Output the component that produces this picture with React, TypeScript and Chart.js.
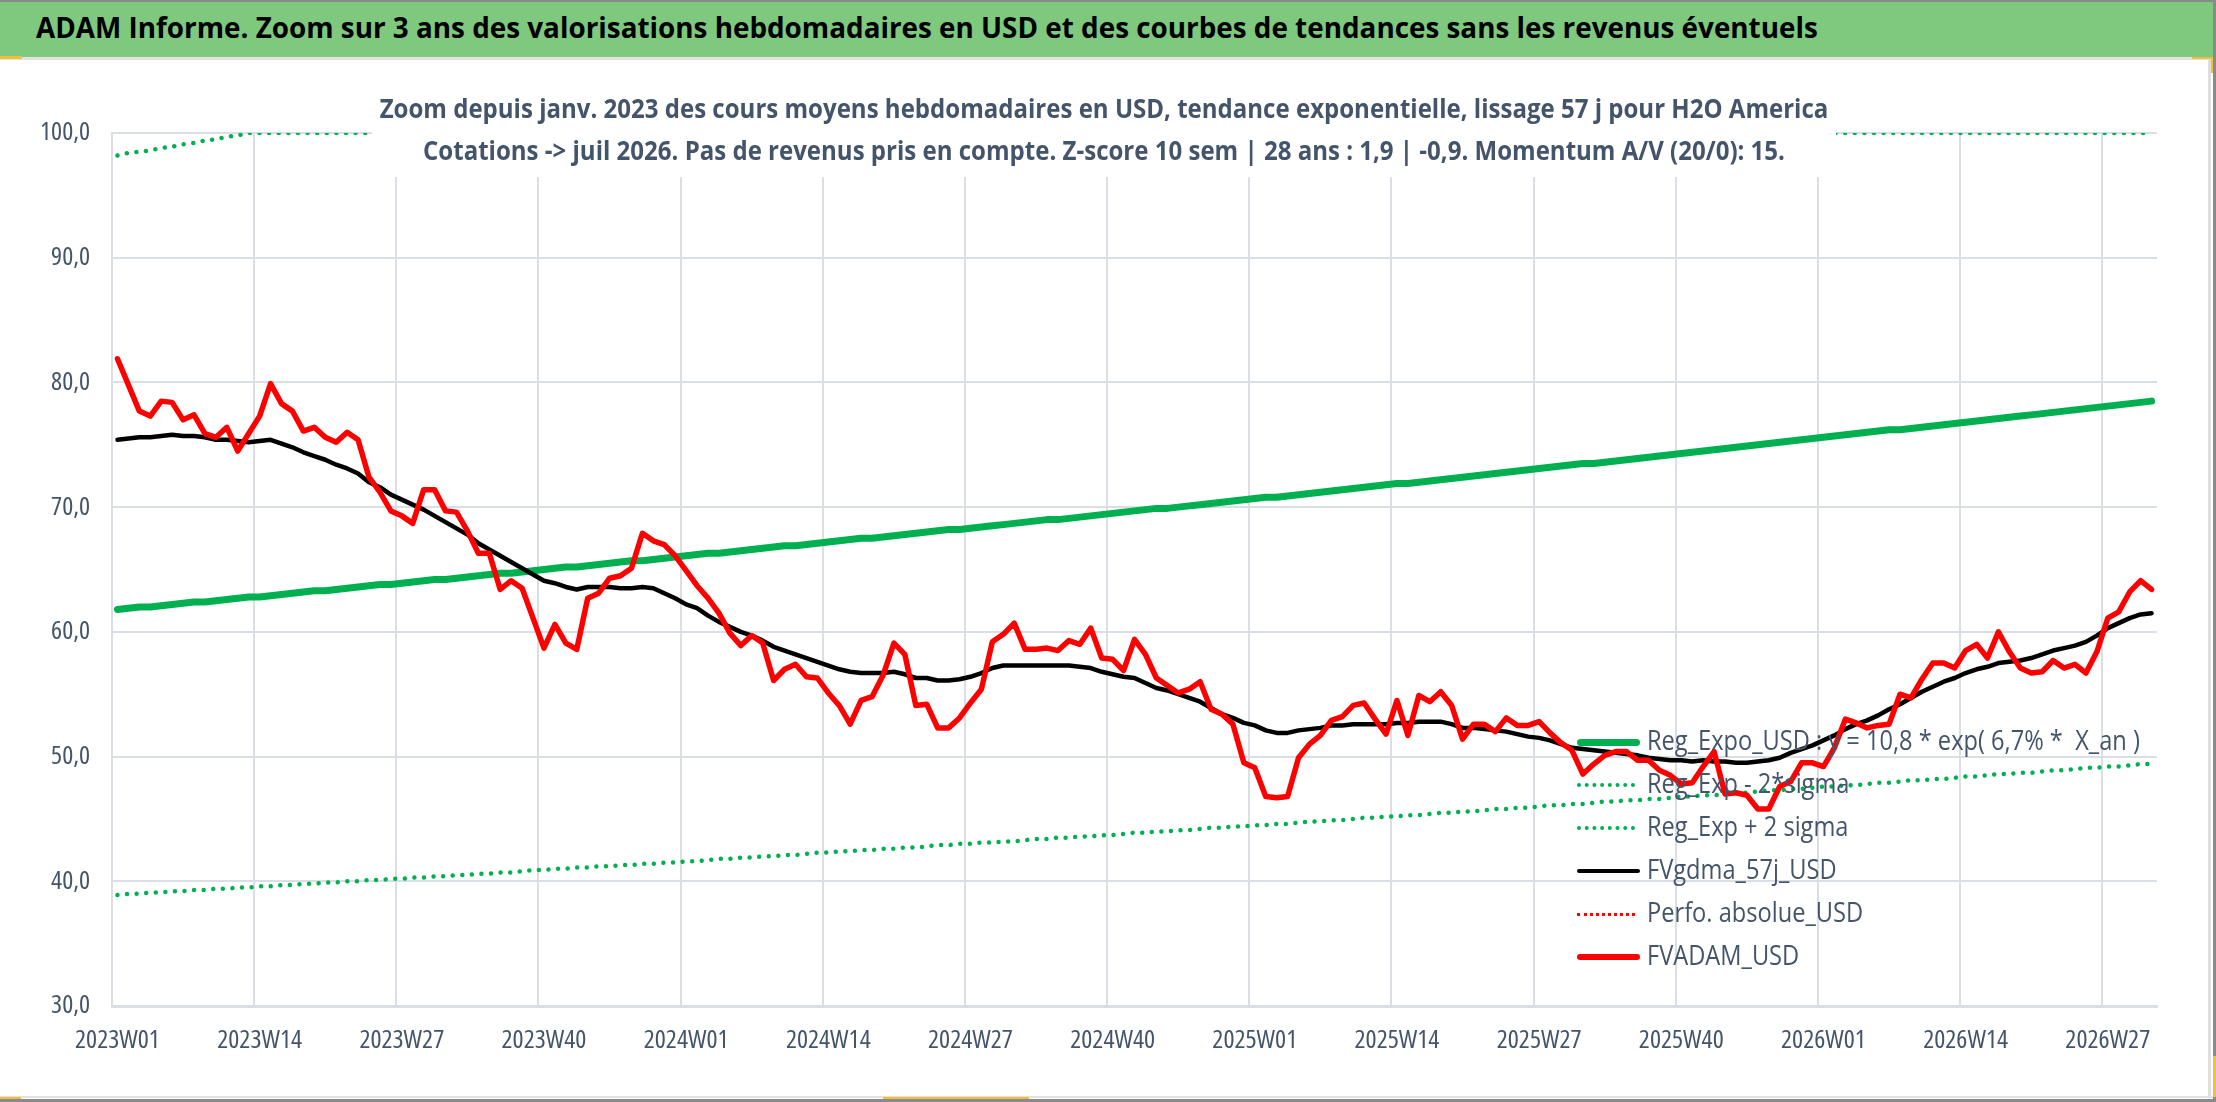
import { useEffect, useRef } from 'react';
import { Chart, registerables } from 'chart.js';

Chart.register(...registerables);

// weeks shown on the category axis (ISO weeks, 52 per year up to juil 2026)
const YEAR_WEEKS: [number, number][] = [
  [2023, 52],
  [2024, 52],
  [2025, 52],
  [2026, 31]
];
const weeks: string[] = YEAR_WEEKS.flatMap(([y, n]) =>
  Array.from({ length: n }, (_, k) => `${y}W${String(k + 1).padStart(2, '0')}`)
);
const LABEL_EVERY = 13;

// FVADAM_USD (red)
const fvAdam = [
  81.9, 79.8, 77.7, 77.3, 78.5, 78.4, 77.0, 77.4, 75.9, 75.6, 76.4, 74.5, 75.9,
  77.3, 79.9, 78.3, 77.7, 76.1, 76.4, 75.6, 75.2, 76.0, 75.4, 72.4, 71.2, 69.7,
  69.3, 68.7, 71.4, 71.4, 69.7, 69.6, 68.1, 66.3, 66.3, 63.4, 64.1, 63.5, 61.1,
  58.7, 60.6, 59.1, 58.6, 62.7, 63.1, 64.3, 64.5, 65.1, 67.9, 67.3, 67.0, 66.1,
  64.9, 63.7, 62.7, 61.5, 59.9, 58.9, 59.7, 59.1, 56.1, 57.0, 57.4, 56.4, 56.3,
  55.1, 54.1, 52.6, 54.5, 54.8, 56.5, 59.1, 58.2, 54.1, 54.2, 52.3, 52.3, 53.1,
  54.3, 55.4, 59.2, 59.8, 60.7, 58.6, 58.6, 58.7, 58.5, 59.3, 59.0, 60.3, 57.9,
  57.8, 56.9, 59.4, 58.2, 56.3, 55.7, 55.1, 55.4, 56.0, 53.8, 53.4, 52.6, 49.5,
  49.1, 46.8, 46.7, 46.8, 49.9, 51.0, 51.7, 52.9, 53.2, 54.1, 54.3, 53.0, 51.8,
  54.5, 51.7, 54.9, 54.4, 55.2, 54.1, 51.4, 52.6, 52.6, 52.0, 53.1, 52.5, 52.5,
  52.8, 51.9, 51.1, 50.5, 48.6, 49.4, 50.1, 50.4, 50.4, 49.7, 49.7, 48.9, 48.5,
  47.8, 47.9, 49.2, 50.4, 47.0, 47.1, 46.9, 45.8, 45.8, 47.6, 48.0, 49.5, 49.5,
  49.2, 50.7, 53.0, 52.7, 52.3, 52.5, 52.6, 55.0, 54.7, 56.2, 57.5, 57.5, 57.1,
  58.5, 59.0, 57.9, 60.0, 58.4, 57.1, 56.7, 56.8, 57.7, 57.1, 57.4, 56.7, 58.4,
  61.1, 61.6, 63.2, 64.1, 63.4
];

// FVgdma_57j_USD (black)
const fvGdma = [
  75.4, 75.5, 75.6, 75.6, 75.7, 75.8, 75.7, 75.7, 75.6, 75.4, 75.4, 75.3, 75.2,
  75.3, 75.4, 75.1, 74.8, 74.4, 74.1, 73.8, 73.4, 73.1, 72.7, 72.0, 71.6, 71.0,
  70.6, 70.2, 69.8, 69.3, 68.8, 68.3, 67.8, 67.1, 66.6, 66.1, 65.6, 65.1, 64.6,
  64.1, 63.9, 63.6, 63.4, 63.6, 63.6, 63.6, 63.5, 63.5, 63.6, 63.5, 63.1, 62.7,
  62.2, 61.9, 61.3, 60.8, 60.4, 60.0, 59.7, 59.3, 58.8, 58.5, 58.2, 57.9, 57.6,
  57.3, 57.0, 56.8, 56.7, 56.7, 56.7, 56.8, 56.6, 56.3, 56.3, 56.1, 56.1, 56.2,
  56.4, 56.7, 57.1, 57.3, 57.3, 57.3, 57.3, 57.3, 57.3, 57.3, 57.2, 57.1, 56.8,
  56.6, 56.4, 56.3, 55.9, 55.5, 55.3, 55.0, 54.7, 54.4, 53.9, 53.4, 53.1, 52.7,
  52.5, 52.1, 51.9, 51.9, 52.1, 52.2, 52.3, 52.5, 52.5, 52.6, 52.6, 52.6, 52.6,
  52.7, 52.7, 52.8, 52.8, 52.8, 52.6, 52.3, 52.3, 52.2, 52.1, 52.0, 51.8, 51.6,
  51.5, 51.3, 51.0, 50.7, 50.6, 50.5, 50.4, 50.3, 50.2, 50.1, 49.9, 49.8, 49.7,
  49.7, 49.6, 49.7, 49.6, 49.6, 49.5, 49.5, 49.6, 49.7, 49.9, 50.3, 50.6, 50.9,
  51.3, 51.7, 52.2, 52.6, 52.9, 53.3, 53.8, 54.2, 54.7, 55.2, 55.6, 56.0, 56.3,
  56.7, 57.0, 57.2, 57.5, 57.6, 57.7, 57.9, 58.2, 58.5, 58.7, 58.9, 59.2, 59.7,
  60.3, 60.7, 61.1, 61.4, 61.5
];

// Reg_Expo_USD (green, solid)
const regExpo = [
  61.8, 61.9, 62.0, 62.0, 62.1, 62.2, 62.3, 62.4, 62.4, 62.5, 62.6, 62.7, 62.8,
  62.8, 62.9, 63.0, 63.1, 63.2, 63.3, 63.3, 63.4, 63.5, 63.6, 63.7, 63.8, 63.8,
  63.9, 64.0, 64.1, 64.2, 64.2, 64.3, 64.4, 64.5, 64.6, 64.7, 64.7, 64.8, 64.9,
  65.0, 65.1, 65.2, 65.2, 65.3, 65.4, 65.5, 65.6, 65.7, 65.7, 65.8, 65.9, 66.0,
  66.1, 66.2, 66.3, 66.3, 66.4, 66.5, 66.6, 66.7, 66.8, 66.9, 66.9, 67.0, 67.1,
  67.2, 67.3, 67.4, 67.5, 67.5, 67.6, 67.7, 67.8, 67.9, 68.0, 68.1, 68.2, 68.2,
  68.3, 68.4, 68.5, 68.6, 68.7, 68.8, 68.9, 69.0, 69.0, 69.1, 69.2, 69.3, 69.4,
  69.5, 69.6, 69.7, 69.8, 69.9, 69.9, 70.0, 70.1, 70.2, 70.3, 70.4, 70.5, 70.6,
  70.7, 70.8, 70.8, 70.9, 71.0, 71.1, 71.2, 71.3, 71.4, 71.5, 71.6, 71.7, 71.8,
  71.9, 71.9, 72.0, 72.1, 72.2, 72.3, 72.4, 72.5, 72.6, 72.7, 72.8, 72.9, 73.0,
  73.1, 73.2, 73.3, 73.4, 73.5, 73.5, 73.6, 73.7, 73.8, 73.9, 74.0, 74.1, 74.2,
  74.3, 74.4, 74.5, 74.6, 74.7, 74.8, 74.9, 75.0, 75.1, 75.2, 75.3, 75.4, 75.5,
  75.6, 75.7, 75.8, 75.9, 76.0, 76.1, 76.2, 76.2, 76.3, 76.4, 76.5, 76.6, 76.7,
  76.8, 76.9, 77.0, 77.1, 77.2, 77.3, 77.4, 77.5, 77.6, 77.7, 77.8, 77.9, 78.0,
  78.1, 78.2, 78.3, 78.4, 78.5
];

// Reg_Exp - 2*sigma (green, dotted)
const regLow = [
  38.9, 39.0, 39.0, 39.1, 39.1, 39.2, 39.2, 39.3, 39.3, 39.4, 39.4, 39.5, 39.5,
  39.6, 39.6, 39.7, 39.7, 39.8, 39.8, 39.9, 39.9, 40.0, 40.0, 40.1, 40.1, 40.2,
  40.2, 40.3, 40.3, 40.4, 40.4, 40.5, 40.5, 40.6, 40.6, 40.7, 40.7, 40.8, 40.9,
  40.9, 41.0, 41.0, 41.1, 41.1, 41.2, 41.2, 41.3, 41.3, 41.4, 41.4, 41.5, 41.5,
  41.6, 41.6, 41.7, 41.8, 41.8, 41.9, 41.9, 42.0, 42.0, 42.1, 42.1, 42.2, 42.3,
  42.3, 42.4, 42.4, 42.5, 42.5, 42.6, 42.6, 42.7, 42.7, 42.8, 42.9, 42.9, 43.0,
  43.0, 43.1, 43.1, 43.2, 43.2, 43.3, 43.4, 43.4, 43.5, 43.5, 43.6, 43.6, 43.7,
  43.7, 43.8, 43.9, 43.9, 44.0, 44.0, 44.1, 44.1, 44.2, 44.3, 44.3, 44.4, 44.4,
  44.5, 44.5, 44.6, 44.6, 44.7, 44.8, 44.8, 44.9, 44.9, 45.0, 45.1, 45.1, 45.2,
  45.2, 45.3, 45.3, 45.4, 45.5, 45.5, 45.6, 45.6, 45.7, 45.8, 45.8, 45.9, 45.9,
  46.0, 46.1, 46.1, 46.2, 46.2, 46.3, 46.4, 46.4, 46.5, 46.5, 46.6, 46.6, 46.7,
  46.8, 46.8, 46.9, 46.9, 47.0, 47.1, 47.1, 47.2, 47.3, 47.3, 47.4, 47.4, 47.5,
  47.6, 47.6, 47.7, 47.7, 47.8, 47.9, 47.9, 48.0, 48.1, 48.1, 48.2, 48.2, 48.3,
  48.4, 48.4, 48.5, 48.6, 48.6, 48.7, 48.7, 48.8, 48.9, 48.9, 49.0, 49.1, 49.1,
  49.2, 49.2, 49.3, 49.4, 49.4
];

// Reg_Exp + 2 sigma (green, dotted) - reaches the 100 ceiling of the axis
const regHigh = [
  98.2, 98.4, 98.5, 98.6, 98.8, 98.9, 99.1, 99.2, 99.4, 99.5, 99.7, 99.8, 100,
  100, 100, 100, 100, 100, 100, 100, 100, 100, 100, 100, 100, 100,
  100, 100, 100, 100, 100, 100, 100, 100, 100, 100, 100, 100, 100,
  100, 100, 100, 100, 100, 100, 100, 100, 100, 100, 100, 100, 100,
  100, 100, 100, 100, 100, 100, 100, 100, 100, 100, 100, 100, 100,
  100, 100, 100, 100, 100, 100, 100, 100, 100, 100, 100, 100, 100,
  100, 100, 100, 100, 100, 100, 100, 100, 100, 100, 100, 100, 100,
  100, 100, 100, 100, 100, 100, 100, 100, 100, 100, 100, 100, 100,
  100, 100, 100, 100, 100, 100, 100, 100, 100, 100, 100, 100, 100,
  100, 100, 100, 100, 100, 100, 100, 100, 100, 100, 100, 100, 100,
  100, 100, 100, 100, 100, 100, 100, 100, 100, 100, 100, 100, 100,
  100, 100, 100, 100, 100, 100, 100, 100, 100, 100, 100, 100, 100,
  100, 100, 100, 100, 100, 100, 100, 100, 100, 100, 100, 100, 100,
  100, 100, 100, 100, 100, 100, 100, 100, 100, 100, 100, 100, 100,
  100, 100, 100, 100, 100
];

// Perfo. absolue_USD : nothing plotted in this window
const perfoAbs: number[] = [];

const TITLE =
  'ADAM Informe. Zoom sur 3 ans des valorisations hebdomadaires en USD et des courbes de tendances sans les revenus éventuels';
const SUB1 =
  'Zoom depuis janv. 2023 des cours moyens hebdomadaires en USD, tendance exponentielle, lissage 57 j pour H2O America';
const SUB2 =
  'Cotations -> juil 2026. Pas de revenus pris en compte. Z-score 10 sem | 28 ans : 1,9 | -0,9. Momentum A/V (20/0): 15.';

const GREEN = '#00b050';
const RED = '#ff0000';
const GRID = '#dadee5';
const TXT = '#44546a';
const FONT = "'Open Sans', sans-serif";

const LEGEND = [
  { text: 'Reg_Expo_USD : y = 10,8 * exp( 6,7% *  X_an )', color: GREEN, w: 7, dotted: false },
  { text: 'Reg_Exp - 2*sigma', color: GREEN, w: 4.5, dotted: true },
  { text: 'Reg_Exp + 2 sigma', color: GREEN, w: 4.5, dotted: true },
  { text: 'FVgdma_57j_USD', color: '#000000', w: 4.5, dotted: false },
  { text: 'Perfo. absolue_USD', color: RED, w: 3, dotted: true },
  { text: 'FVADAM_USD', color: RED, w: 6.5, dotted: false }
];

export default function App() {
  const canvasRef = useRef<HTMLCanvasElement | null>(null);

  useEffect(() => {
    if (!canvasRef.current) return;
    const line = (label: string, data: number[], color: string, width: number, order: number, dotted = false) => ({
      label,
      data,
      borderColor: color,
      backgroundColor: color,
      borderWidth: width,
      borderDash: dotted ? [0.01, 9.6] : [],
      borderCapStyle: 'round' as const,
      borderJoinStyle: 'round' as const,
      pointRadius: 0,
      tension: 0,
      fill: false,
      order
    });
    // font-stretch keyword goes in front of the size in the canvas font string
    const tickFont = { family: FONT, size: 26, weight: 'condensed' as any };

    const chart = new Chart(canvasRef.current, {
      type: 'line',
      data: {
        labels: weeks,
        datasets: [
          line('FVADAM_USD', fvAdam, RED, 5.5, 0),
          line('Perfo. absolue_USD', perfoAbs, RED, 3, 1, true),
          line('FVgdma_57j_USD', fvGdma, '#000000', 4.5, 2),
          line('Reg_Expo_USD', regExpo, GREEN, 7, 3),
          line('Reg_Exp - 2*sigma', regLow, GREEN, 4.5, 4, true),
          line('Reg_Exp + 2 sigma', regHigh, GREEN, 4.5, 5, true)
        ]
      },
      options: {
        responsive: true,
        maintainAspectRatio: false,
        animation: false,
        events: [],
        layout: { padding: { left: 12, top: 133, right: 59, bottom: 26 } },
        plugins: { legend: { display: false }, tooltip: { enabled: false } },
        scales: {
          x: {
            offset: true,
            grid: {
              offset: true,
              drawTicks: false,
              lineWidth: 2,
              color: (ctx: any) => (ctx.index % LABEL_EVERY === 0 ? GRID : 'transparent')
            },
            border: { color: GRID, width: 3 },
            ticks: {
              autoSkip: false,
              maxRotation: 0,
              minRotation: 0,
              padding: 19,
              color: TXT,
              font: tickFont,
              callback: (_v: any, i: number) => (i % LABEL_EVERY === 0 ? weeks[i] : '')
            },
            afterFit: (s: any) => {
              s.height = 70;
            }
          },
          y: {
            min: 30,
            max: 100,
            ticks: {
              stepSize: 10,
              padding: 22,
              color: TXT,
              font: tickFont,
              callback: (v: any) => Number(v).toFixed(1).replace('.', ',')
            },
            grid: { color: GRID, lineWidth: 2, drawTicks: false },
            border: { color: GRID, width: 2 },
            afterFit: (s: any) => {
              s.width = 100;
            }
          }
        }
      }
    });
    return () => chart.destroy();
  }, []);

  const yellow = '#f2c037';
  const subLine = { position: 'absolute' as const, left: -250, right: -250, height: 36, lineHeight: '36px', transform: 'scaleX(0.874)' };
  return (
    <div style={{ position: 'absolute', left: 0, top: 0, width: 2216, height: 1102, background: '#fff', overflow: 'hidden', fontFamily: FONT }}>
      <div style={{ position: 'absolute', left: 0, top: 0, width: 2216, height: 1102 }}>
        <canvas ref={canvasRef}></canvas>
      </div>

      {/* banner */}
      <div style={{ position: 'absolute', left: 0, top: 0, width: 2216, height: 2, background: '#8a8a8a' }} />
      <div style={{ position: 'absolute', left: 0, top: 2, width: 2213, height: 55, background: '#7fc97f' }} />
      <div
        style={{
          position: 'absolute',
          left: 36,
          top: -1,
          height: 55,
          lineHeight: '55px',
          color: '#000',
          fontWeight: 700,
          fontSize: 29,
          whiteSpace: 'nowrap',
          transform: 'scaleX(0.96)',
          transformOrigin: 'left center'
        }}
      >
        {TITLE}
      </div>
      <div style={{ position: 'absolute', left: 0, top: 57, width: 2213, height: 3, background: '#e2e2e2' }} />
      <div style={{ position: 'absolute', left: 2208, top: 60, width: 3, height: 1037, background: '#dedede' }} />
      <div style={{ position: 'absolute', left: 2213, top: 0, width: 3, height: 1102, background: '#8a8a8a' }} />
      <div style={{ position: 'absolute', left: 0, top: 1096, width: 2213, height: 2, background: '#e2e2e2' }} />
      <div style={{ position: 'absolute', left: 0, top: 1099, width: 2216, height: 3, background: '#8a8a8a' }} />
      <div style={{ position: 'absolute', left: 0, top: 56, width: 22, height: 3, background: yellow }} />
      <div style={{ position: 'absolute', left: 2192, top: 57, width: 21, height: 2, background: yellow }} />
      <div style={{ position: 'absolute', left: 2211, top: 57, width: 2, height: 16, background: yellow }} />
      <div style={{ position: 'absolute', left: 2213, top: 1056, width: 3, height: 41, background: yellow }} />
      <div style={{ position: 'absolute', left: 883, top: 1097, width: 146, height: 2, background: yellow }} />
      <div style={{ position: 'absolute', left: 0, top: 1097, width: 21, height: 2, background: yellow }} />

      {/* subtitle box, drawn over the plot like the original text box */}
      <div
        style={{
          position: 'absolute',
          left: 372,
          top: 80,
          width: 1464,
          height: 97,
          background: '#fff',
          color: TXT,
          fontWeight: 700,
          fontSize: 27.5,
          textAlign: 'center',
          whiteSpace: 'nowrap'
        }}
      >
        <div style={{ ...subLine, top: 10 }}>{SUB1}</div>
        <div style={{ ...subLine, top: 52 }}>{SUB2}</div>
      </div>

      {/* legend */}
      {LEGEND.map((e, k) => {
        const cy = 742 + k * 43;
        return (
          <div key={e.text}>
            {e.dotted ? (
              <div
                style={{
                  position: 'absolute',
                  left: 1577,
                  width: 58,
                  top: cy - e.w / 2,
                  height: 0,
                  borderTop: `${e.w}px dotted ${e.color}`
                }}
              />
            ) : (
              <div
                style={{
                  position: 'absolute',
                  left: 1577,
                  width: 63,
                  top: cy - e.w / 2,
                  height: e.w,
                  background: e.color,
                  borderRadius: e.w / 2
                }}
              />
            )}
            <div
              style={{
                position: 'absolute',
                left: 1647,
                top: cy - 22,
                height: 40,
                lineHeight: '40px',
                fontSize: 27,
                color: TXT,
                whiteSpace: 'pre',
                transform: 'scaleX(0.875)',
                transformOrigin: 'left center'
              }}
            >
              {e.text}
            </div>
          </div>
        );
      })}
    </div>
  );
}
